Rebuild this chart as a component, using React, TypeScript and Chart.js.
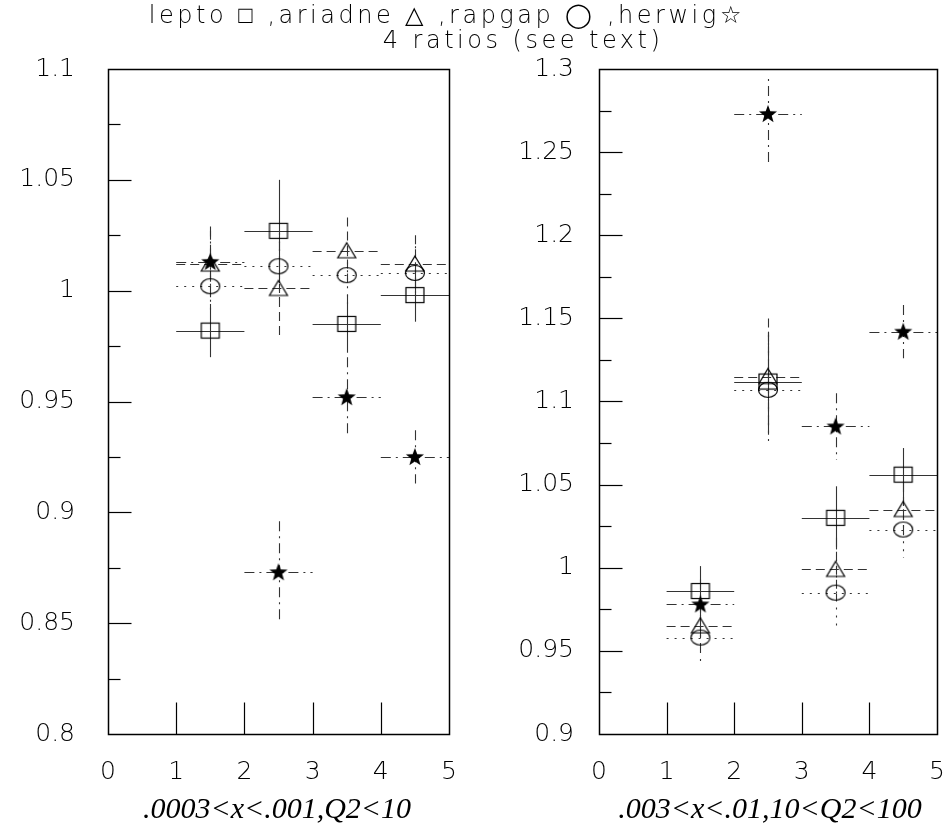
import React, { useEffect, useRef } from "react";
import { Chart, registerables } from "chart.js";

Chart.register(...registerables);

// ---------------- data ----------------
const binCentres = [1.5, 2.5, 3.5, 4.5];
const binHalfWidth = [0.5, 0.5, 0.5, 0.5];

// panel 1 : .0003<x<.001, Q2<10
const p1Lepto = [0.982, 1.027, 0.985, 0.998];
const p1LeptoErr = [0.012, 0.023, 0.013, 0.012];
const p1Ariadne = [1.012, 1.001, 1.018, 1.012];
const p1AriadneErr = [0.015, 0.021, 0.015, 0.013];
const p1Rapgap = [1.002, 1.011, 1.007, 1.008];
const p1RapgapErr = [0.012, 0.015, 0.013, 0.012];
const p1Herwig = [1.013, 0.873, 0.952, 0.925];
const p1HerwigErr = [0.016, 0.023, 0.018, 0.012];

// panel 2 : .003<x<.01, 10<Q2<100
const p2Lepto = [0.986, 1.112, 1.03, 1.056];
const p2LeptoErr = [0.015, 0.03, 0.019, 0.016];
const p2Ariadne = [0.965, 1.115, 0.999, 1.035];
const p2AriadneErr = [0.015, 0.035, 0.019, 0.016];
const p2Rapgap = [0.958, 1.107, 0.985, 1.023];
const p2RapgapErr = [0.016, 0.033, 0.02, 0.017];
const p2Herwig = [0.978, 1.273, 1.085, 1.142];
const p2HerwigErr = [0.015, 0.03, 0.02, 0.016];

const xTickValues = [0, 1, 2, 3, 4, 5];
const xTickLabels = ["0", "1", "2", "3", "4", "5"];
const p1YTickValues = [0.8, 0.85, 0.9, 0.95, 1.0, 1.05, 1.1];
const p1YTickLabels = ["0.8", "0.85", "0.9", "0.95", "1", "1.05", "1.1"];
const p2YTickValues = [0.9, 0.95, 1.0, 1.05, 1.1, 1.15, 1.2, 1.25, 1.3];
const p2YTickLabels = ["0.9", "0.95", "1", "1.05", "1.1", "1.15", "1.2", "1.25", "1.3"];

const titleLine1 = "lepto \u25A1 ,ariadne \u25B3 ,rapgap \u25EF ,herwig\u2606";
const titleLine2 = "4 ratios (see text)";
const p1Caption = ".0003<x<.001,Q2<10";
const p2Caption = ".003<x<.01,10<Q2<100";

// ---------------- markers ----------------
function makeMarker(kind: string): HTMLCanvasElement {
  const c = document.createElement("canvas");
  const w = 24;
  const h = 22;
  c.width = w;
  c.height = h;
  const g = c.getContext("2d")!;
  g.strokeStyle = "#000";
  g.fillStyle = "#000";
  g.lineWidth = 1.2;
  const cx = w / 2;
  const cy = h / 2;
  if (kind === "square") {
    g.strokeRect(cx - 9, cy - 7.5, 18, 15);
  } else if (kind === "triangle") {
    g.beginPath();
    g.moveTo(cx, cy - 8);
    g.lineTo(cx + 9, cy + 7);
    g.lineTo(cx - 9, cy + 7);
    g.closePath();
    g.stroke();
  } else if (kind === "circle") {
    g.beginPath();
    g.ellipse(cx, cy, 9.5, 7.5, 0, 0, Math.PI * 2);
    g.stroke();
  } else {
    const R = 9.5;
    const r = 3.9;
    g.beginPath();
    for (let i = 0; i < 10; i++) {
      const a = -Math.PI / 2 + (i * Math.PI) / 5;
      const rr = i % 2 === 0 ? R : r;
      const px = cx + rr * Math.cos(a);
      const py = cy + 0.5 + rr * Math.sin(a);
      if (i === 0) g.moveTo(px, py);
      else g.lineTo(px, py);
    }
    g.closePath();
    g.fill();
  }
  return c;
}

function pts(vals: number[], errs: number[]) {
  return vals.map((v, i) => ({
    x: binCentres[i],
    y: v,
    xerr: binHalfWidth[i],
    yerr: errs[i],
  }));
}

const styles = {
  lepto: { dash: [] as number[] },
  ariadne: { dash: [9, 5] },
  rapgap: { dash: [2, 6] },
  herwig: { dash: [10, 5, 2, 5] },
};

const errorBarPlugin = {
  id: "errorBars",
  beforeDatasetsDraw(chart: any) {
    const { ctx, chartArea, scales } = chart;
    const xs = scales.x;
    const ys = scales.y;
    ctx.save();
    ctx.beginPath();
    ctx.rect(chartArea.left, chartArea.top + 5, chartArea.right - chartArea.left, chartArea.bottom - chartArea.top - 5);
    ctx.clip();
    chart.data.datasets.forEach((ds: any) => {
      ctx.strokeStyle = "#333";
      ctx.lineWidth = 1.1;
      ctx.setLineDash(ds.errDash || []);
      ds.data.forEach((p: any) => {
        const px = Math.round(xs.getPixelForValue(p.x)) + 0.5;
        const py = Math.round(ys.getPixelForValue(p.y)) + 0.5;
        ctx.beginPath();
        ctx.moveTo(xs.getPixelForValue(p.x - p.xerr), py);
        ctx.lineTo(xs.getPixelForValue(p.x + p.xerr), py);
        ctx.stroke();
        ctx.beginPath();
        ctx.moveTo(px, ys.getPixelForValue(p.y + p.yerr));
        ctx.lineTo(px, ys.getPixelForValue(p.y - p.yerr));
        ctx.stroke();
      });
    });
    ctx.restore();
  },
};

const framePlugin = {
  id: "frame",
  afterDraw(chart: any) {
    const { ctx, chartArea, scales } = chart;
    const xs = scales.x;
    const ys = scales.y;
    const L = Math.round(chartArea.left) + 0.5;
    const R = Math.round(chartArea.right) + 0.5;
    const T = Math.round(chartArea.top) + 0.5;
    const B = Math.round(chartArea.bottom) + 0.5;
    ctx.save();
    ctx.strokeStyle = "#000";
    ctx.lineWidth = 1.5;
    ctx.setLineDash([]);
    ctx.strokeRect(L, T, R - L, B - T);
    ctx.lineWidth = 1.2;
    const yv: number[] = chart.options.yTickValues;
    const step = yv[1] - yv[0];
    for (let i = 0; i < yv.length; i++) {
      const major = yv[i];
      const minor = major + step / 2;
      if (i > 0 && i < yv.length - 1) {
        const py = Math.round(ys.getPixelForValue(major)) + 0.5;
        ctx.beginPath();
        ctx.moveTo(L, py);
        ctx.lineTo(L + 23, py);
        ctx.stroke();
      }
      if (i < yv.length - 1) {
        const py = Math.round(ys.getPixelForValue(minor)) + 0.5;
        ctx.beginPath();
        ctx.moveTo(L, py);
        ctx.lineTo(L + 12, py);
        ctx.stroke();
      }
    }
    const xv: number[] = chart.options.xTickValues;
    for (let i = 1; i < xv.length - 1; i++) {
      const px = Math.round(xs.getPixelForValue(xv[i])) + 0.5;
      ctx.beginPath();
      ctx.moveTo(px, B);
      ctx.lineTo(px, B - 32);
      ctx.stroke();
    }
    ctx.restore();
  },
};

type PanelProps = {
  left: number;
  width: number;
  areaLeft: number;
  areaRight: number;
  yMin: number;
  yMax: number;
  yTicks: number[];
  yLabels: string[];
  yPad: number;
  series: { vals: number[]; errs: number[]; kind: string; dash: number[] }[];
};

const H = 828;
const AREA_TOP = 69;
const AREA_BOTTOM = 734;

function Panel(props: PanelProps) {
  const ref = useRef<HTMLCanvasElement | null>(null);
  useEffect(() => {
    const canvas = ref.current!;
    const tickFont = { family: "'DejaVu Sans', sans-serif", size: 25, weight: "200" as any };
    const chart = new Chart(canvas, {
      type: "scatter",
      data: {
        datasets: props.series.map((s) => ({
          data: pts(s.vals, s.errs),
          pointStyle: makeMarker(s.kind) as any,
          pointRadius: 10,
          showLine: false,
          errDash: s.dash,
        })) as any,
      },
      options: {
        animation: false,
        responsive: false,
        devicePixelRatio: 1,
        xTickValues: xTickValues,
        yTickValues: props.yTicks,
        layout: { padding: { left: 0, right: props.width - props.areaRight, top: AREA_TOP, bottom: 0 } },
        plugins: { legend: { display: false }, tooltip: { enabled: false }, title: { display: false } },
        scales: {
          x: {
            type: "linear",
            min: 0,
            max: 5,
            grid: { display: false, drawTicks: false },
            border: { display: false },
            afterBuildTicks: (s: any) => {
              s.ticks = xTickValues.map((v) => ({ value: v }));
            },
            afterFit: (s: any) => {
              s.height = H - AREA_BOTTOM;
              s.paddingLeft = 0;
              s.paddingRight = 0;
            },
            ticks: {
              color: "#000",
              font: tickFont,
              padding: 23,
              maxRotation: 0,
              autoSkip: false,
              callback: (v: any, i: number) => xTickLabels[i],
            },
          },
          y: {
            type: "linear",
            min: props.yMin,
            max: props.yMax,
            grid: { display: false, drawTicks: false },
            border: { display: false },
            afterBuildTicks: (s: any) => {
              s.ticks = props.yTicks.map((v) => ({ value: v }));
            },
            afterFit: (s: any) => {
              s.width = props.areaLeft;
              s.paddingTop = 0;
              s.paddingBottom = 0;
            },
            ticks: {
              color: "#000",
              font: tickFont,
              padding: props.yPad,
              autoSkip: false,
              callback: (v: any, i: number) => props.yLabels[i],
            },
          },
        },
      } as any,
      plugins: [errorBarPlugin, framePlugin],
    });
    return () => chart.destroy();
  }, []);
  return (
    <canvas
      ref={ref}
      width={props.width}
      height={H}
      style={{ position: "absolute", left: props.left, top: 0, width: props.width, height: H }}
    />
  );
}

export default function App() {
  const p1Series = [
    { vals: p1Lepto, errs: p1LeptoErr, kind: "square", dash: styles.lepto.dash },
    { vals: p1Ariadne, errs: p1AriadneErr, kind: "triangle", dash: styles.ariadne.dash },
    { vals: p1Rapgap, errs: p1RapgapErr, kind: "circle", dash: styles.rapgap.dash },
    { vals: p1Herwig, errs: p1HerwigErr, kind: "star", dash: styles.herwig.dash },
  ];
  const p2Series = [
    { vals: p2Lepto, errs: p2LeptoErr, kind: "square", dash: styles.lepto.dash },
    { vals: p2Ariadne, errs: p2AriadneErr, kind: "triangle", dash: styles.ariadne.dash },
    { vals: p2Rapgap, errs: p2RapgapErr, kind: "circle", dash: styles.rapgap.dash },
    { vals: p2Herwig, errs: p2HerwigErr, kind: "star", dash: styles.herwig.dash },
  ];
  const titleFont: React.CSSProperties = {
    position: "absolute",
    fontFamily: "'DejaVu Sans', sans-serif",
    fontWeight: 200,
    fontSize: 24,
    lineHeight: "24px",
    letterSpacing: "3.5px",
    whiteSpace: "nowrap",
    textAlign: "center",
    color: "#000",
  };
  const captionFont: React.CSSProperties = {
    position: "absolute",
    fontFamily: "'Liberation Serif', 'Times New Roman', serif",
    fontStyle: "italic",
    fontSize: 30,
    lineHeight: "30px",
    whiteSpace: "nowrap",
    textAlign: "center",
    color: "#000",
  };
  return (
    <div style={{ position: "absolute", left: 0, top: 0, width: 948, height: 828, background: "#fff", overflow: "hidden" }}>
      <Panel
        left={0}
        width={474}
        areaLeft={108}
        areaRight={449}
        yMin={0.8}
        yMax={1.1}
        yTicks={p1YTickValues}
        yLabels={p1YTickLabels}
        yPad={33}
        series={p1Series}
      />
      <Panel
        left={474}
        width={474}
        areaLeft={599 - 474}
        areaRight={940 - 474}
        yMin={0.9}
        yMax={1.3}
        yTicks={p2YTickValues}
        yLabels={p2YTickLabels}
        yPad={25}
        series={p2Series}
      />
      <div style={{ ...titleFont, left: 447 - 400, width: 800, top: 3 }}>{titleLine1}</div>
      <div style={{ ...titleFont, left: 523 - 300, width: 600, top: 28 }}>{titleLine2}</div>
      <div style={{ ...captionFont, left: 277 - 250, width: 500, top: 793 }}>{p1Caption}</div>
      <div style={{ ...captionFont, left: 770 - 250, width: 500, top: 793 }}>{p2Caption}</div>
    </div>
  );
}
